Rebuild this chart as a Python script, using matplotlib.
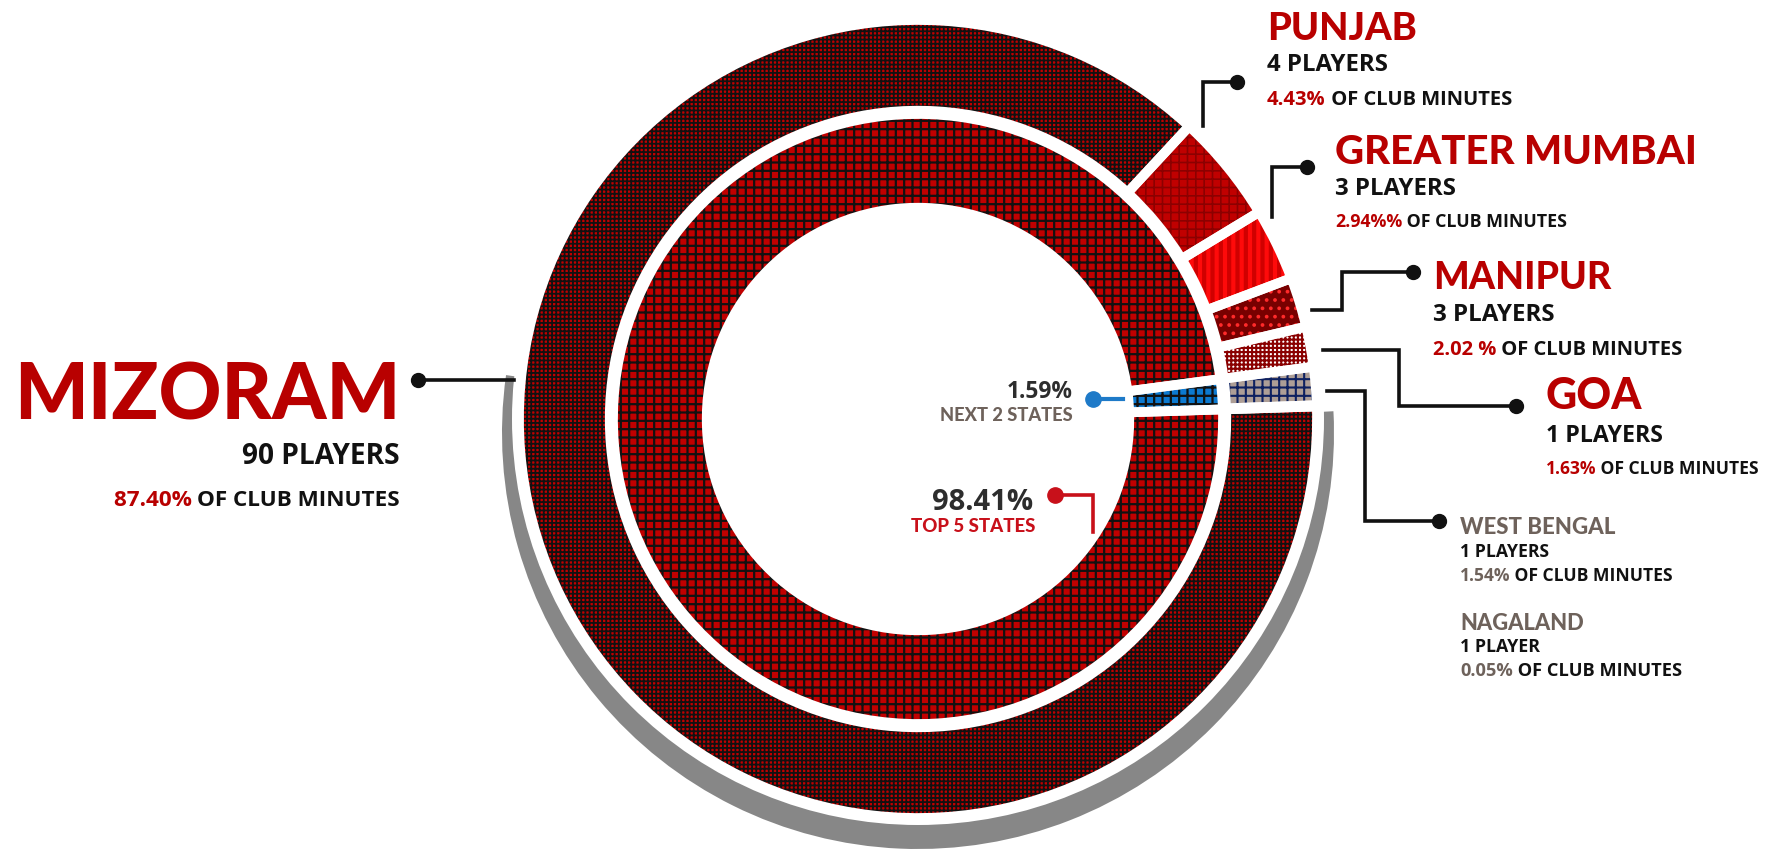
import matplotlib
matplotlib.use("Agg")
import matplotlib.pyplot as plt
from matplotlib.patches import Wedge, Circle

W, H = 1772, 853

# ── data ──
states = ["Nagaland", "West Bengal", "Goa", "Manipur", "Greater Mumbai", "Punjab", "Mizoram"]
minutes_pct = [0.05, 1.54, 1.63, 2.02, 2.94, 4.43, 87.40]
players = [1, 1, 1, 3, 3, 4, 90]
pct_labels = ["0.05%", "1.54%", "1.63%", "2.02 %", "2.94%%", "4.43%", "87.40%"]
groups = ["NEXT 2 STATES", "TOP 5 STATES"]
group_pct = [1.59, 98.41]

# ── style ──
RED = "#b80000"
INK = "#111111"
BROWN = "#6e625b"
GREY = "#2d2d2d"
HEAD = ["Lato", "DejaVu Sans"]
BODY = ["Open Sans", "DejaVu Sans"]

faces = ["#6e625b", "#ad9e96", "white", "#780000", "#ff0a0a", "#c00000", "#c00000"]
hatches = ["", "++", "++++", "..", "||", "++", "++++"]
hcolors = ["#6e625b", "#0d2060", "#8a0000", "#ff2a2a", "#d00000", "#8c0000", "#111111"]
hwidths = [1.0, 1.5, 1.5, 1.5, 3.0, 1.2, 1.3]
in_faces = ["#0c7ad0", "#c00000"]

CX, CY = 918, H - 420
START = 1.8

fig = plt.figure(figsize=(W / 100, H / 100), dpi=100)
ax = fig.add_axes([0, 0, 1, 1])
ax.set_xlim(0, W)
ax.set_ylim(0, H)
ax.axis("off")


def P(x, y):
    return x, H - y


# shadow + white rim
ax.add_patch(Wedge((CX, CY - 14), 416, 172, 363, color="#878787", lw=0, zorder=1))
ax.add_patch(Circle((CX, CY), 406, color="white", lw=0, zorder=2))


def ring(vals, radius, width, fcs, hts, hcs, hws):
    wedges, _ = ax.pie(vals, radius=radius, center=(CX, CY), startangle=START,
                       counterclock=True, colors=fcs, frame=True,
                       wedgeprops=dict(width=width, linewidth=0, zorder=3))
    for w, h, hc, hw in zip(wedges, hts, hcs, hws):
        w.set_hatch(h)
        w.set_edgecolor(hc)
        w.set_linewidth(0)
        if hasattr(w, "set_hatch_linewidth"):
            w.set_hatch_linewidth(hw)
    ax.pie(vals, radius=radius, center=(CX, CY), startangle=START, counterclock=True,
           frame=True, wedgeprops=dict(width=width, fill=False, edgecolor="white",
                                       linewidth=7, zorder=4))


plt.rcParams["hatch.linewidth"] = 1.4
ring(minutes_pct, 399, 90.7, faces, hatches, hcolors, hwidths)
ring(group_pct, 305, 93.7, in_faces, ["++", "++"], ["#111111", "#111111"], [1.6, 1.6])

ax.set_xlim(0, W)
ax.set_ylim(0, H)
R = fig.canvas.get_renderer()


def fitted_size(s, target, family, weight):
    t = ax.text(0, 0, s, fontsize=20, family=family, weight=weight)
    w = t.get_window_extent(renderer=R).width
    t.remove()
    return 20 * target / w


def txt(x, y, s, target, color, family=BODY, weight="bold", ha="left"):
    size = fitted_size(s, target, family, weight)
    return ax.text(*P(x, y), s, color=color, fontsize=size, family=family,
                   weight=weight, ha=ha, va="baseline")


def two_tone(x, y, first, rest, c1, target, ha="left"):
    size = fitted_size(first + " " + rest, target, BODY, "bold")
    kw = dict(fontsize=size, family=BODY, weight="bold", va="baseline")
    if ha == "left":
        t = ax.text(*P(x, y), first, color=c1, ha="left", **kw)
        bb = t.get_window_extent(renderer=R)
        ax.text(bb.x1, H - y, " " + rest, color=INK, ha="left", **kw)
    else:
        t = ax.text(*P(x, y), rest, color=INK, ha="right", **kw)
        bb = t.get_window_extent(renderer=R)
        ax.text(bb.x0, H - y, first + " ", color=c1, ha="right", **kw)


def leader(path, color=INK, lw=2.6, ms=10):
    xs = [p[0] for p in path]
    ys = [H - p[1] for p in path]
    ax.plot(xs, ys, color=color, lw=lw, solid_joinstyle="miter", zorder=6)
    ax.plot(xs[0], ys[0], "o", color=color, ms=ms, zorder=7)


# layout per state: x, baselines, target widths (name, players, pct line), colour, leader
layout = {
    "Mizoram": dict(x=400, ys=(420, 464, 506), ws=(386, 158, 287), col=RED, ha="right",
                    path=[(418, 381), (514, 381)]),
    "Punjab": dict(x=1267, ys=(40, 71, 105), ws=(150, 121, 245), col=RED, ha="left",
                   path=[(1237, 83), (1203, 83), (1203, 127)]),
    "Greater Mumbai": dict(x=1335, ys=(164, 195, 227), ws=(362, 121, 233), col=RED, ha="left",
                           path=[(1307, 168), (1272, 168), (1272, 218)]),
    "Manipur": dict(x=1433, ys=(289, 321, 355), ws=(178, 122, 250), col=RED, ha="left",
                    path=[(1413, 273), (1342, 273), (1342, 311), (1312, 311)]),
    "Goa": dict(x=1546, ys=(409, 442, 474), ws=(96, 117, 214), col=RED, ha="left",
                path=[(1516, 407), (1399, 407), (1399, 351), (1323, 351)]),
    "West Bengal": dict(x=1460, ys=(534, 557, 581), ws=(155, 89, 214), col=BROWN, ha="left",
                        path=[(1439, 522), (1365, 522), (1365, 392), (1327, 392)]),
    "Nagaland": dict(x=1460, ys=(630, 652, 676), ws=(124, 80, 222), col=BROWN, ha="left",
                     path=None),
}

for name, n, pl in zip(states, players, pct_labels):
    L = layout[name]
    x, ha = L["x"], L["ha"]
    y0, y1, y2 = L["ys"]
    w0, w1, w2 = L["ws"]
    txt(x, y0, name.upper(), w0, L["col"], family=HEAD, weight="black", ha=ha)
    word = "PLAYER" if name == "Nagaland" else "PLAYERS"
    txt(x, y1, f"{n} {word}", w1, INK, ha=ha)
    pc = RED if L["col"] == RED else BROWN
    two_tone(x, y2, pl, "OF CLUB MINUTES", pc, w2, ha=ha)
    if L["path"]:
        leader(L["path"])

# centre labels
txt(1073, 398, f"{group_pct[0]:.2f}%", 66, GREY, ha="right")
txt(1073, 421, groups[0], 133, BROWN, family=HEAD, weight="black", ha="right")
leader([(1093, 400), (1123, 400)], color="#1e7ac8", lw=3, ms=11)

txt(1033, 510, f"{group_pct[1]:.2f}%", 101, GREY, ha="right")
txt(1035, 532, groups[1], 125, "#c8101a", family=HEAD, weight="black", ha="right")
leader([(1055, 496), (1093, 496), (1093, 533)], color="#c8101a", lw=2.6, ms=11)

fig.savefig("out.png", dpi=100, facecolor="white")
